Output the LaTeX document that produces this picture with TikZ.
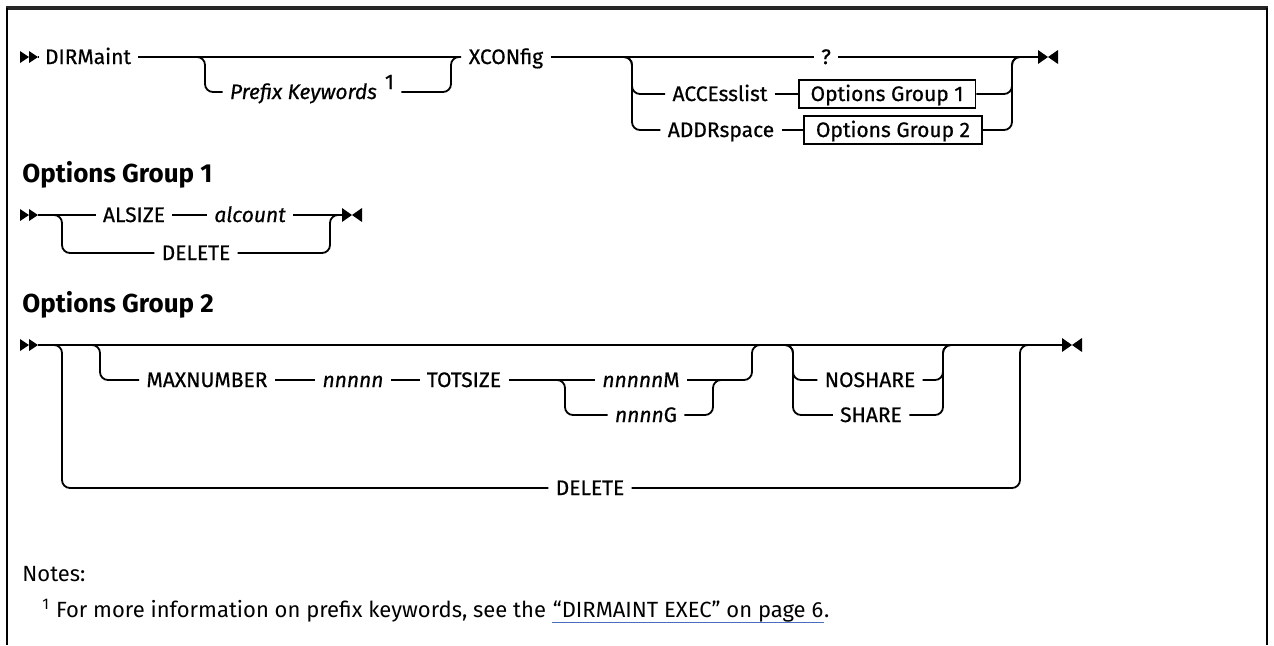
\documentclass[tikz,border=0pt]{standalone}
\usepackage{fontspec}
\setmainfont{Fira Sans}
\newfontfamily\railfont[FakeBold=0.6]{Fira Sans}
\usetikzlibrary{positioning,calc}
\definecolor{linkblue}{RGB}{74,110,190}

\begin{document}
\begin{tikzpicture}[
    x=0.5pt, y=-0.5pt,
    font=\railfont\fontsize{10.5}{12}\selectfont,
    kw/.style={inner xsep=3.5pt, inner ysep=0pt, text height=7pt, text depth=0pt},
    var/.style={kw, font=\railfont\fontsize{10.5}{12}\selectfont\itshape},
    grp/.style={draw, line width=0.9pt, inner xsep=6pt, text height=7pt, text depth=0pt, minimum height=14pt},
    head/.style={anchor=west, inner sep=0pt, font=\normalfont\fontsize{13}{15}\selectfont\bfseries},
    rail/.style={line width=0.9pt, rounded corners=4pt},
    note/.style={anchor=base west, inner sep=0pt, font=\normalfont\fontsize{11}{13}\selectfont},
    linkline/.style={line width=0.6pt, linkblue},
    startmark/.pic={\fill (-18,-6) -- (-9,0) -- (-18,6) -- cycle;
                    \fill (-9,-6) -- (0,0) -- (-9,6) -- cycle;},
    endmark/.pic={\fill (0,-7) -- (10,0) -- (0,7) -- cycle;
                  \fill (20,-7) -- (10,0) -- (20,7) -- cycle;}
]
\useasboundingbox (0,0) rectangle (1274,645);

% Frame
\draw[line width=1.8pt, black!85] (6,8) -- (1268,8);
\draw[line width=1.1pt] (7,8) -- (7,645);
\draw[line width=1.1pt] (1267,8) -- (1267,645);

% DIRMaint XCONfig
\coordinate (aS) at (38,57);
\pic at (aS) {startmark};
\node[kw] (dirm) at (88,57) {DIRMaint};
\node[kw] (pfx) at (312,92) {\textit{Prefix Keywords}\hspace{4pt}\raisebox{5pt}{1}};
\node[kw] (xcon) at (506,57) {XCONfig};
\coordinate (pL) at (205,57);
\coordinate (pR) at (451,57);
\draw[rail] (aS) -- (dirm.west);
\draw[rail] (dirm.east) -- (xcon.west);
\draw[rail] ($(pL)+(-10,0)$) -- (pL) -- (pL |- pfx) -- (pfx.west);
\draw[rail] (pfx.east) -- (pR |- pfx) -- (pR) -- ($(pR)+(10,0)$);

\node[kw] (qm) at (826,57) {?};
\node[kw] (acc) at (720,94) {ACCEsslist};
\node[grp] (og1) at (887,94) {Options Group 1};
\node[kw] (addr) at (721,130) {ADDRspace};
\node[grp] (og2) at (893,130) {Options Group 2};
\coordinate (xL) at (632,57);
\coordinate (xR) at (1012,57);
\coordinate (aE) at (1038,57);
\draw[rail] (xcon.east) -- (qm.west);
\draw[rail] (qm.east) -- (aE);
\draw[rail] ($(xL)+(-10,0)$) -- (xL) -- (xL |- acc) -- (acc.west);
\draw[rail] ($(xL)+(-10,0)$) -- (xL) -- (xL |- addr) -- (addr.west);
\draw[rail] (acc.east) -- (og1.west);
\draw[rail] (addr.east) -- (og2.west);
\draw[rail] (og1.east) -- (xR |- og1) -- (xR) -- ($(xR)+(10,0)$);
\draw[rail] (og2.east) -- (xR |- og2) -- (xR) -- ($(xR)+(10,0)$);
\pic at (aE) {endmark};

% Options Group 1
\node[head] (h1) at (22,175) {Options Group 1};
\coordinate (bS) at (38,215);
\pic at (bS) {startmark};
\node[kw] (als) at (134,215) {ALSIZE};
\node[var] (alc) at (250,215) {alcount};
\node[kw] (del1) at (196,253) {DELETE};
\coordinate (bL) at (62,215);
\coordinate (bR) at (330,215);
\coordinate (bE) at (342,215);
\draw[rail] (bS) -- (als.west);
\draw[rail] (als.east) -- (alc.west);
\draw[rail] (alc.east) -- (bE);
\draw[rail] ($(bL)+(-10,0)$) -- (bL) -- (bL |- del1) -- (del1.west);
\draw[rail] (del1.east) -- (bR |- del1) -- (bR) -- ($(bR)+(10,0)$);
\pic at (bE) {endmark};

% Options Group 2
\node[head] (h2) at (22,305) {Options Group 2};
\coordinate (cS) at (38,345);
\coordinate (cE) at (1062,345);
\pic at (cS) {startmark};
\draw[rail] (cS) -- (cE);
\pic at (cE) {endmark};

\node[kw] (maxn) at (207,380) {MAXNUMBER};
\node[var] (nnn) at (353,380) {nnnnn};
\node[kw] (tot) at (464,380) {TOTSIZE};
\node[kw] (nM) at (641,380) {\textit{nnnnn}M};
\node[kw] (nG) at (646,415) {\textit{nnnn}G};
\coordinate (cL2) at (100,345);
\coordinate (tL) at (565,380);
\coordinate (tR) at (713,380);
\coordinate (mR) at (752,345);
\draw[rail] ($(cL2)+(-10,0)$) -- (cL2) -- (cL2 |- maxn) -- (maxn.west);
\draw[rail] (maxn.east) -- (nnn.west);
\draw[rail] (nnn.east) -- (tot.west);
\draw[rail] (tot.east) -- (nM.west);
\draw[rail] ($(tL)+(-10,0)$) -- (tL) -- (tL |- nG) -- (nG.west);
\draw[rail] (nG.east) -- (tR |- nG) -- (tR) -- ($(tR)+(10,0)$);
\draw[rail] (nM.east) -- (mR |- nM) -- (mR) -- ($(mR)+(10,0)$);

\node[kw] (nosh) at (870,380) {NOSHARE};
\node[kw] (sh) at (871,415) {SHARE};
\coordinate (sL) at (793,345);
\coordinate (sR) at (943,345);
\draw[rail] ($(sL)+(-10,0)$) -- (sL) -- (sL |- nosh) -- (nosh.west);
\draw[rail] ($(sL)+(-10,0)$) -- (sL) -- (sL |- sh) -- (sh.west);
\draw[rail] (nosh.east) -- (sR |- nosh) -- (sR) -- ($(sR)+(10,0)$);
\draw[rail] (sh.east) -- (sR |- sh) -- (sR) -- ($(sR)+(10,0)$);

\node[kw] (del2) at (590,488) {DELETE};
\coordinate (cL1) at (62,345);
\coordinate (cR) at (1020,345);
\draw[rail] ($(cL1)+(-10,0)$) -- (cL1) -- (cL1 |- del2) -- (del2.west);
\draw[rail] (del2.east) -- (cR |- del2) -- (cR) -- ($(cR)+(10,0)$);

% Notes
\node[note] (notes) at (22,581) {Notes:};
\node[note] (fn) at (42,617) {\textsuperscript{1}\hspace{3pt}For more information on prefix keywords, see the};
\node[note] (link) at ($(fn.base east)+(6,0)$) {“DIRMAINT EXEC” on page 6};
\node[note] (dot) at (link.base east) {.};
\draw[linkline] (link.south west) -- (link.south east);

\end{tikzpicture}
\end{document}
